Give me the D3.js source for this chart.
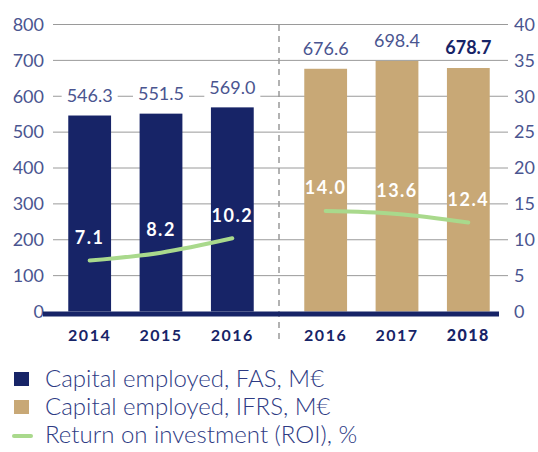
<!DOCTYPE html>
<html lang="en">
<head>
<meta charset="utf-8" />
<script src="https://cdn.jsdelivr.net/npm/d3@7"></script>
<style>
  body { margin: 0; background: #fff; }
</style>
</head>
<body>
<svg id="chart" width="538" height="452"></svg>
<script>
  // data
  const fasYears = ["2014", "2015", "2016"];
  const fasValues = [546.3, 551.5, 569.0];
  const fasRoi = [7.1, 8.2, 10.2];
  const ifrsYears = ["2016", "2017", "2018"];
  const ifrsValues = [676.6, 698.4, 678.7];
  const ifrsRoi = [14.0, 13.6, 12.4];
  const leftTicks = [0, 100, 200, 300, 400, 500, 600, 700, 800];
  const rightTicks = [0, 5, 10, 15, 20, 25, 30, 35, 40];
  const legendItems = ["Capital employed, FAS, M€", "Capital employed, IFRS, M€", "Return on investment (ROI), %"];

  const navy = "#172467";
  const tan = "#c8a876";
  const green = "#a9d98c";
  const tickColor = "#4a5590";
  const font = "Lato, 'Open Sans', sans-serif";

  const svg = d3.select("#chart").attr("font-family", font);

  const y = d3.scaleLinear().domain([0, 800]).range([311.5, 24.5]);
  const yR = d3.scaleLinear().domain([0, 40]).range([311.5, 24.5]);

  const xLeft = d3.scaleBand().domain(fasYears).range([54, 268]).paddingInner(0.4).paddingOuter(0.2);
  const xRight = d3.scaleBand().domain(ifrsYears).range([290, 504]).paddingInner(0.4).paddingOuter(0.2);

  // gridlines
  svg.append("g").selectAll("line")
    .data(leftTicks.filter(d => d > 0))
    .enter().append("line")
    .attr("x1", 53).attr("x2", 508)
    .attr("y1", d => y(d)).attr("y2", d => y(d))
    .attr("stroke", "#9a9a9a").attr("stroke-width", 1);

  // left tick labels
  svg.append("g").selectAll("text")
    .data(leftTicks)
    .enter().append("text")
    .attr("x", 44).attr("y", d => y(d))
    .attr("dy", "0.35em")
    .attr("text-anchor", "end")
    .attr("font-size", "18px")
    .attr("fill", tickColor)
    .text(d => d);

  // right tick labels
  svg.append("g").selectAll("text")
    .data(rightTicks)
    .enter().append("text")
    .attr("x", 514).attr("y", d => yR(d))
    .attr("dy", "0.35em")
    .attr("text-anchor", "start")
    .attr("font-size", "18px")
    .attr("fill", tickColor)
    .text(d => d);

  // dashed separator
  svg.append("line")
    .attr("x1", 279).attr("x2", 279)
    .attr("y1", 25).attr("y2", 340)
    .attr("stroke", "#999").attr("stroke-width", 1.5)
    .attr("stroke-dasharray", "6,5");

  // value labels with white background
  function valueLabel(g, x, yy, txt, bold) {
    const t = g.append("text")
      .attr("x", x).attr("y", yy)
      .attr("dy", "0.35em")
      .attr("text-anchor", "middle")
      .attr("font-size", "18px")
      .attr("font-weight", bold ? 700 : 400)
      .attr("fill", bold ? navy : tickColor)
      .text(txt);
    const b = t.node().getBBox();
    g.insert("rect", "text")
      .attr("x", b.x - 5).attr("y", b.y)
      .attr("width", b.width + 10).attr("height", b.height)
      .attr("fill", "#fff");
  }

  function drawGroup(xs, years, values, roi, color) {
    const g = svg.append("g");
    g.selectAll("rect.bar")
      .data(values)
      .enter().append("rect")
      .attr("class", "bar")
      .attr("x", (d, i) => xs(years[i]))
      .attr("width", xs.bandwidth())
      .attr("y", d => y(d))
      .attr("height", d => y(0) - y(d))
      .attr("fill", color);

    values.forEach((v, i) => {
      const lg = svg.append("g");
      valueLabel(lg, xs(years[i]) + xs.bandwidth() / 2, y(v) - 20, d3.format(".1f")(v), years[i] === "2018");
    });

    const line = d3.line()
      .x((d, i) => xs(years[i]) + xs.bandwidth() / 2)
      .y(d => yR(d))
      .curve(d3.curveMonotoneX);
    g.append("path")
      .datum(roi)
      .attr("d", line)
      .attr("fill", "none")
      .attr("stroke", green)
      .attr("stroke-width", 4)
      .attr("stroke-linecap", "round");

    g.selectAll("text.roi")
      .data(roi)
      .enter().append("text")
      .attr("class", "roi")
      .attr("x", (d, i) => xs(years[i]) + xs.bandwidth() / 2)
      .attr("y", d => yR(d) - 23)
      .attr("dy", "0.35em")
      .attr("text-anchor", "middle")
      .attr("font-size", "18px")
      .attr("font-weight", 700)
      .attr("letter-spacing", "1.5px")
      .attr("fill", "#fff")
      .text(d => d3.format(".1f")(d));

    g.selectAll("text.year")
      .data(years)
      .enter().append("text")
      .attr("class", "year")
      .attr("x", d => xs(d) + xs.bandwidth() / 2)
      .attr("y", 335)
      .attr("dy", "0.35em")
      .attr("text-anchor", "middle")
      .attr("font-size", "16px")
      .attr("font-weight", d => d === "2018" ? 900 : 700)
      .attr("letter-spacing", "1.5px")
      .attr("fill", navy)
      .text(d => d);
  }

  drawGroup(xLeft, fasYears, fasValues, fasRoi, navy);
  drawGroup(xRight, ifrsYears, ifrsValues, ifrsRoi, tan);

  // baseline
  svg.append("rect")
    .attr("x", 43).attr("y", y(0))
    .attr("width", 456).attr("height", 5)
    .attr("fill", navy);

  // legend
  const legend = svg.append("g");
  legendItems.forEach((name, i) => {
    const ly = 379 + i * 28;
    if (i < 2) {
      legend.append("rect")
        .attr("x", 14).attr("y", ly - 7)
        .attr("width", 15).attr("height", 14)
        .attr("fill", i === 0 ? navy : tan);
    } else {
      legend.append("line")
        .attr("x1", 14).attr("x2", 31)
        .attr("y1", ly + 1).attr("y2", ly + 1)
        .attr("stroke", green).attr("stroke-width", 4)
        .attr("stroke-linecap", "round");
    }
    legend.append("text")
      .attr("x", 45).attr("y", ly)
      .attr("dy", "0.35em")
      .attr("font-size", "24px")
      .attr("font-weight", 300)
      .attr("fill", "#2e3b84")
      .text(name);
  });
</script>
</body>
</html>
